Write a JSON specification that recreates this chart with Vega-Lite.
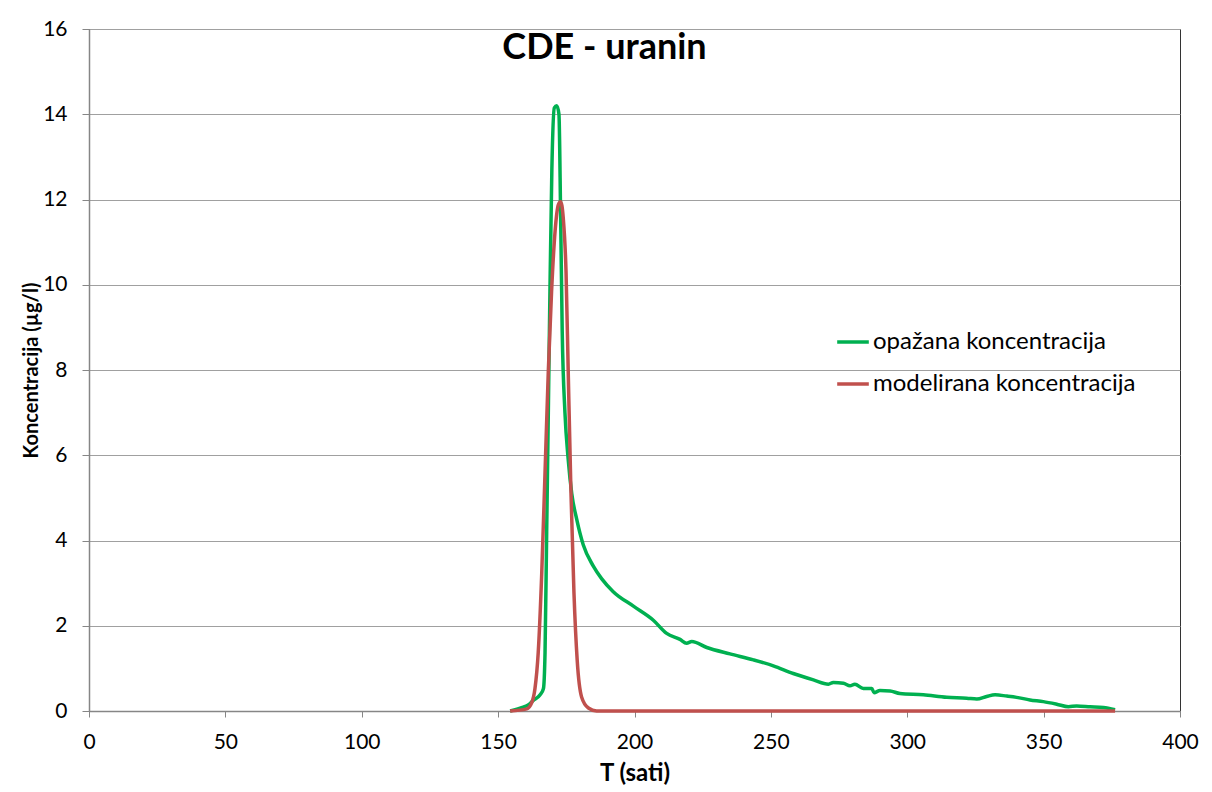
{
  "$schema": "https://vega.github.io/schema/vega-lite/v6.json",
  "width": 1091,
  "height": 682,
  "autosize": {"type": "none"},
  "padding": {"left": 89, "top": 29, "right": 32, "bottom": 81},
  "background": "white",
  "title": {
    "text": "CDE - uranin",
    "font": "Lato",
    "fontSize": 36,
    "fontWeight": "bold",
    "color": "#000000",
    "anchor": "middle",
    "baseline": "middle",
    "offset": -66,
    "dx": -30
  },
  "config": {
    "view": {"stroke": "#333333", "strokeWidth": 1},
    "font": "Lato"
  },
  "data": {
    "values": [
      {"T": 154.4, "C": 0.0, "serija": "opažana koncentracija"},
      {"T": 159.2, "C": 0.09, "serija": "opažana koncentracija"},
      {"T": 161.0, "C": 0.14, "serija": "opažana koncentracija"},
      {"T": 162.9, "C": 0.25, "serija": "opažana koncentracija"},
      {"T": 165.4, "C": 0.38, "serija": "opažana koncentracija"},
      {"T": 166.6, "C": 0.52, "serija": "opažana koncentracija"},
      {"T": 167.2, "C": 1.37, "serija": "opažana koncentracija"},
      {"T": 167.8, "C": 4.2, "serija": "opažana koncentracija"},
      {"T": 168.4, "C": 7.0, "serija": "opažana koncentracija"},
      {"T": 169.0, "C": 9.85, "serija": "opažana koncentracija"},
      {"T": 169.7, "C": 12.7, "serija": "opažana koncentracija"},
      {"T": 170.6, "C": 14.15, "serija": "opažana koncentracija"},
      {"T": 171.5, "C": 14.2, "serija": "opažana koncentracija"},
      {"T": 172.3, "C": 14.0, "serija": "opažana koncentracija"},
      {"T": 172.9, "C": 11.7, "serija": "opažana koncentracija"},
      {"T": 173.5, "C": 8.9, "serija": "opažana koncentracija"},
      {"T": 174.5, "C": 7.0, "serija": "opažana koncentracija"},
      {"T": 175.7, "C": 5.9, "serija": "opažana koncentracija"},
      {"T": 177.0, "C": 5.1, "serija": "opažana koncentracija"},
      {"T": 178.8, "C": 4.5, "serija": "opažana koncentracija"},
      {"T": 181.2, "C": 3.9, "serija": "opažana koncentracija"},
      {"T": 184.9, "C": 3.4, "serija": "opažana koncentracija"},
      {"T": 188.0, "C": 3.1, "serija": "opažana koncentracija"},
      {"T": 192.2, "C": 2.8, "serija": "opažana koncentracija"},
      {"T": 199.6, "C": 2.46, "serija": "opažana koncentracija"},
      {"T": 206.9, "C": 2.13, "serija": "opažana koncentracija"},
      {"T": 211.8, "C": 1.82, "serija": "opažana koncentracija"},
      {"T": 216.7, "C": 1.68, "serija": "opažana koncentracija"},
      {"T": 219.1, "C": 1.59, "serija": "opažana koncentracija"},
      {"T": 221.0, "C": 1.63, "serija": "opažana koncentracija"},
      {"T": 226.5, "C": 1.49, "serija": "opažana koncentracija"},
      {"T": 235.0, "C": 1.34, "serija": "opažana koncentracija"},
      {"T": 243.6, "C": 1.2, "serija": "opažana koncentracija"},
      {"T": 250.9, "C": 1.06, "serija": "opažana koncentracija"},
      {"T": 258.2, "C": 0.88, "serija": "opažana koncentracija"},
      {"T": 265.6, "C": 0.73, "serija": "opažana koncentracija"},
      {"T": 271.1, "C": 0.63, "serija": "opažana koncentracija"},
      {"T": 272.9, "C": 0.67, "serija": "opažana koncentracija"},
      {"T": 276.6, "C": 0.65, "serija": "opažana koncentracija"},
      {"T": 279.0, "C": 0.59, "serija": "opažana koncentracija"},
      {"T": 280.8, "C": 0.63, "serija": "opažana koncentracija"},
      {"T": 283.9, "C": 0.53, "serija": "opažana koncentracija"},
      {"T": 287.0, "C": 0.53, "serija": "opažana koncentracija"},
      {"T": 287.8, "C": 0.43, "serija": "opažana koncentracija"},
      {"T": 290.0, "C": 0.48, "serija": "opažana koncentracija"},
      {"T": 293.7, "C": 0.47, "serija": "opažana koncentracija"},
      {"T": 297.3, "C": 0.41, "serija": "opažana koncentracija"},
      {"T": 305.9, "C": 0.38, "serija": "opažana koncentracija"},
      {"T": 314.5, "C": 0.32, "serija": "opažana koncentracija"},
      {"T": 321.8, "C": 0.3, "serija": "opažana koncentracija"},
      {"T": 325.5, "C": 0.28, "serija": "opažana koncentracija"},
      {"T": 329.1, "C": 0.34, "serija": "opažana koncentracija"},
      {"T": 332.2, "C": 0.38, "serija": "opažana koncentracija"},
      {"T": 336.5, "C": 0.35, "serija": "opažana koncentracija"},
      {"T": 340.1, "C": 0.32, "serija": "opažana koncentracija"},
      {"T": 345.0, "C": 0.26, "serija": "opažana koncentracija"},
      {"T": 349.9, "C": 0.22, "serija": "opažana koncentracija"},
      {"T": 354.8, "C": 0.16, "serija": "opažana koncentracija"},
      {"T": 359.1, "C": 0.1, "serija": "opažana koncentracija"},
      {"T": 362.1, "C": 0.12, "serija": "opažana koncentracija"},
      {"T": 367.0, "C": 0.1, "serija": "opažana koncentracija"},
      {"T": 371.9, "C": 0.08, "serija": "opažana koncentracija"},
      {"T": 376.2, "C": 0.03, "serija": "opažana koncentracija"},
      {"T": 154.4, "C": 0.0, "serija": "modelirana koncentracija"},
      {"T": 160.5, "C": 0.05, "serija": "modelirana koncentracija"},
      {"T": 162.3, "C": 0.19, "serija": "modelirana koncentracija"},
      {"T": 163.5, "C": 0.52, "serija": "modelirana koncentracija"},
      {"T": 164.7, "C": 1.37, "serija": "modelirana koncentracija"},
      {"T": 166.0, "C": 3.25, "serija": "modelirana koncentracija"},
      {"T": 167.2, "C": 5.6, "serija": "modelirana koncentracija"},
      {"T": 168.4, "C": 7.97, "serija": "modelirana koncentracija"},
      {"T": 169.6, "C": 9.85, "serija": "modelirana koncentracija"},
      {"T": 170.9, "C": 11.27, "serija": "modelirana koncentracija"},
      {"T": 172.1, "C": 11.88, "serija": "modelirana koncentracija"},
      {"T": 172.9, "C": 11.95, "serija": "modelirana koncentracija"},
      {"T": 173.9, "C": 11.55, "serija": "modelirana koncentracija"},
      {"T": 174.9, "C": 10.3, "serija": "modelirana koncentracija"},
      {"T": 175.7, "C": 7.97, "serija": "modelirana koncentracija"},
      {"T": 176.7, "C": 5.14, "serija": "modelirana koncentracija"},
      {"T": 177.8, "C": 2.78, "serija": "modelirana koncentracija"},
      {"T": 179.0, "C": 1.18, "serija": "modelirana koncentracija"},
      {"T": 180.6, "C": 0.33, "serija": "modelirana koncentracija"},
      {"T": 183.1, "C": 0.07, "serija": "modelirana koncentracija"},
      {"T": 186.1, "C": 0.0, "serija": "modelirana koncentracija"},
      {"T": 250.0, "C": 0.0, "serija": "modelirana koncentracija"},
      {"T": 376.2, "C": 0.0, "serija": "modelirana koncentracija"}
    ]
  },
  "mark": {"type": "line", "strokeWidth": 3.5, "interpolate": "monotone"},
  "encoding": {
    "x": {
      "field": "T",
      "type": "quantitative",
      "scale": {"domain": [0, 400], "nice": false},
      "axis": {
        "title": "T (sati)",
        "titleFont": "Lato",
        "titleFontSize": 24,
        "titleFontWeight": "bold",
        "titleColor": "#000000",
        "titleBaseline": "middle",
        "titleY": 62,
        "values": [0, 50, 100, 150, 200, 250, 300, 350, 400],
        "grid": false,
        "domainColor": "#868686",
        "domainWidth": 1.5,
        "tickColor": "#868686",
        "tickSize": 6,
        "labelFont": "Lato",
        "labelFontSize": 21,
        "labelColor": "#000000",
        "labelFlush": false,
        "labelPadding": 14
      }
    },
    "y": {
      "field": "C",
      "type": "quantitative",
      "scale": {"domain": [0, 16], "nice": false},
      "axis": {
        "title": "Koncentracija (µg/l)",
        "titleFont": "Lato",
        "titleFontSize": 20,
        "titleFontWeight": "bold",
        "titleColor": "#000000",
        "titleBaseline": "middle",
        "titleX": -58,
        "titleY": 341,
        "values": [0, 2, 4, 6, 8, 10, 12, 14, 16],
        "grid": true,
        "gridColor": "#A0A0A0",
        "gridWidth": 1,
        "domainColor": "#868686",
        "domainWidth": 1.5,
        "tickColor": "#868686",
        "tickSize": 7,
        "labelFont": "Lato",
        "labelFontSize": 21,
        "labelColor": "#000000",
        "labelPadding": 15
      }
    },
    "color": {
      "field": "serija",
      "type": "nominal",
      "sort": ["opažana koncentracija", "modelirana koncentracija"],
      "scale": {
        "domain": ["opažana koncentracija", "modelirana koncentracija"],
        "range": ["#00B050", "#C0504D"]
      },
      "legend": {
        "title": null,
        "orient": "none",
        "legendX": 746,
        "legendY": 295,
        "symbolType": "stroke",
        "symbolSize": 1000,
        "symbolStrokeWidth": 3.5,
        "labelFont": "Lato",
        "labelFontSize": 24,
        "labelLimit": 0,
        "labelColor": "#000000",
        "labelOffset": 2,
        "rowPadding": 12
      }
    }
  }
}
